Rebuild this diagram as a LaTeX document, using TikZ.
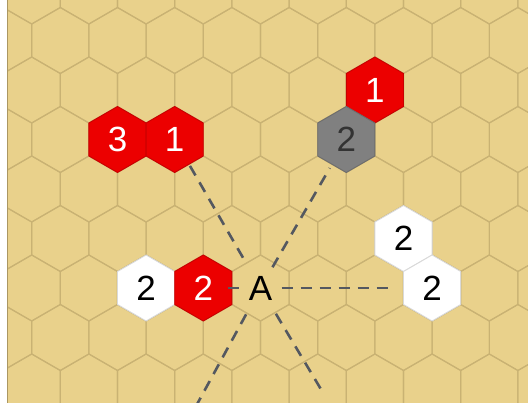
\documentclass[tikz,border=0pt]{standalone}
\usepackage{fontspec}
\setmainfont{Liberation Sans}
\usetikzlibrary{shapes.geometric}
\definecolor{sand}{RGB}{233,209,139}
\definecolor{hexline}{RGB}{201,178,115}
\definecolor{hexred}{RGB}{236,0,0}
\definecolor{hexgrey}{RGB}{128,128,128}
\definecolor{sightgrey}{RGB}{84,88,96}

\begin{document}
\begin{tikzpicture}[
    x=1pt, y=-1pt,
    gridhex/.style={draw=hexline, line width=1.1pt},
    hex/.style={regular polygon, regular polygon sides=6, shape border rotate=30, minimum size=66pt, inner sep=0pt, outer sep=0pt, font=\fontsize{35}{35}\selectfont, line width=0.9pt},
    redunit/.style={hex, fill=hexred, draw=hexred!85!black, text=white},
    greyunit/.style={hex, fill=hexgrey, draw=hexgrey!85!black, text=black!80},
    whiteunit/.style={hex, fill=white, draw=black!15, text=black},
    sight/.style={draw=sightgrey, line width=2.6pt, dash pattern=on 11pt off 8pt}
  ]
  \useasboundingbox (0,0) rectangle (528,403);
  \begin{scope}
    \clip (7,0) rectangle (528,403);
    \fill[sand] (7,0) rectangle (528,403);
    \foreach \k in {-3,...,6}
      \foreach \n in {-2,...,8} {
        \pgfmathsetmacro\cx{117.5+57.2*\n+28.6*mod(\k+10,2)}
        \pgfmathsetmacro\cy{139.5+49.5*\k}
        \draw[gridhex, shift={(\cx,\cy)}] (30:33.02) -- (90:33.02) -- (150:33.02) -- (210:33.02) -- (270:33.02) -- (330:33.02) -- cycle;
      }
  \end{scope}
  \draw[hexline!85!black, line width=0.8pt] (7,0) -- (7,403);

  \node[redunit] (redthree) at (117.5,139.5) {3};
  \node[redunit] (redone) at (174.7,139.5) {1};
  \node[redunit] (redtop) at (374.9,90) {1};
  \node[greyunit] (greytwo) at (346.3,139.5) {2};
  \node[whiteunit] (whiteleft) at (146.1,288) {2};
  \node[redunit] (redtwo) at (203.3,288) {2};
  \node[hex] (a) at (260.5,288) {A};
  \node[whiteunit] (whiteup) at (403.5,238.5) {2};
  \node[whiteunit] (whitedown) at (432.1,288) {2};
  \coordinate (downleft) at (195,408);
  \coordinate (downright) at (322,391);

  \draw[sight, shorten <=35pt, shorten >=30pt] (a.center) -- (redone.center);
  \draw[sight, shorten <=24pt, shorten >=33pt] (a.center) -- (greytwo.center);
  \draw[sight, shorten <=21pt, shorten >=42pt] (a.center) -- (whitedown.center);
  \draw[sight, shorten <=22pt, shorten >=18pt] (a.center) -- (redtwo.center);
  \draw[sight, shorten <=30pt] (a.center) -- (downleft);
  \draw[sight, shorten <=30pt] (a.center) -- (downright);
\end{tikzpicture}
\end{document}
